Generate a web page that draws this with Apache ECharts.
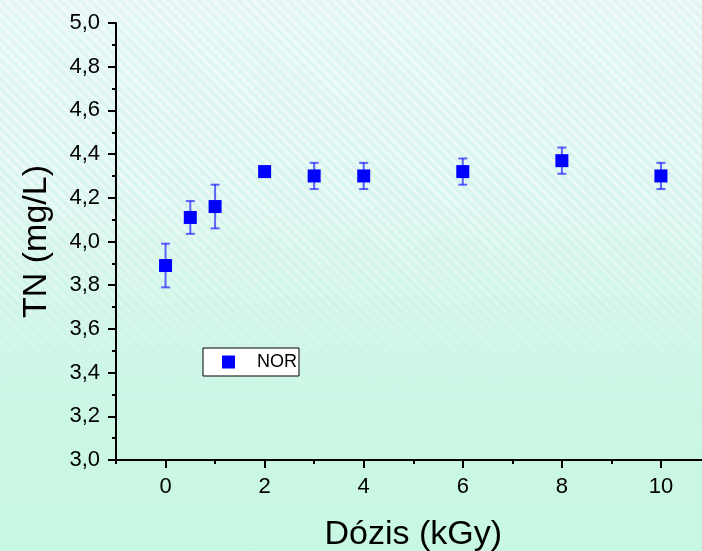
<!DOCTYPE html>
<html>
<head>
<meta charset="utf-8">
<script src="https://cdn.jsdelivr.net/npm/echarts@6/dist/echarts.min.js"></script>
<style>
  html, body { margin: 0; padding: 0; }
  #wrap {
    position: relative;
    width: 702px;
    height: 551px;
    overflow: hidden;
    background: linear-gradient(to bottom, #e3f6f5 0%, #d9f5ef 35%, #cdf6e6 65%, #c8f8e3 100%);
  }
  #stripes {
    position: absolute;
    left: 0; top: 0; width: 702px; height: 551px;
    background: repeating-linear-gradient(45deg, rgba(255,255,255,0.45) 0px, rgba(255,255,255,0.45) 3px, rgba(255,255,255,0) 3px, rgba(255,255,255,0) 7px);
    -webkit-mask-image: linear-gradient(to bottom, #000 0%, #000 35%, transparent 72%);
    mask-image: linear-gradient(to bottom, #000 0%, #000 35%, transparent 72%);
  }
  #chart { position: absolute; left: 0; top: 0; width: 702px; height: 551px; }
</style>
</head>
<body>
<div id="wrap">
  <div id="stripes"></div>
  <div id="chart"></div>
</div>
<script>
// dose (kGy) and total nitrogen (mg/L)
const doses = [0, 0.5, 1, 2, 3, 4, 6, 8, 10];
const tnValues = [3.89, 4.11, 4.16, 4.32, 4.30, 4.30, 4.32, 4.37, 4.30];
const tnErrors = [0.10, 0.075, 0.10, 0.01, 0.06, 0.06, 0.06, 0.06, 0.06];
const xMajorTicks = [0, 2, 4, 6, 8, 10];
const xMinorTicks = [-1, 1, 3, 5, 7, 9, 11];

const chart = echarts.init(document.getElementById('chart'), null, { renderer: 'canvas' });

const font = 'Arial, "Liberation Sans", sans-serif';
const errColor = 'rgba(20,20,255,0.65)';

const points = doses.map((d, i) => [d, tnValues[i]]);
const errData = doses.map((d, i) => [d, tnValues[i] - tnErrors[i], tnValues[i] + tnErrors[i]]);

function renderErr(params, api) {
    const x = api.value(0);
    const lo = api.coord([x, api.value(1)]);
    const hi = api.coord([x, api.value(2)]);
    const w = 4.5;
    const style = { stroke: errColor, lineWidth: 2 };
    return {
        type: 'group',
        children: [
            { type: 'line', shape: { x1: hi[0], y1: hi[1], x2: lo[0], y2: lo[1] }, style: style },
            { type: 'line', shape: { x1: hi[0] - w, y1: hi[1], x2: hi[0] + w, y2: hi[1] }, style: style },
            { type: 'line', shape: { x1: lo[0] - w, y1: lo[1], x2: lo[0] + w, y2: lo[1] }, style: style }
        ]
    };
}

const option = {
    backgroundColor: 'transparent',
    animation: false,
    grid: {
        left: 116,
        right: -8.5,
        top: 23,
        bottom: 91,
        containLabel: false,
        outerBoundsMode: 'none'
    },
    legend: {
        left: 203,
        top: 348,
        orient: 'vertical',
        data: ['NOR'],
        backgroundColor: '#ffffff',
        borderColor: '#000000',
        borderWidth: 1,
        borderRadius: 0,
        padding: [5, 2, 5, 19],
        itemWidth: 13,
        itemHeight: 13,
        textStyle: {
            fontFamily: font,
            fontSize: 18,
            color: '#000',
            padding: [0, 0, 0, 17]
        }
    },
    xAxis: [
        {
            type: 'value',
            position: 'bottom',
            min: -1,
            max: 11,
            interval: 1,
            splitLine: { show: false },
            axisLine: { onZero: false, lineStyle: { color: '#000', width: 2 } },
            axisTick: { show: true, customValues: xMajorTicks, length: 8, lineStyle: { color: '#000', width: 2 } },
            axisLabel: {
                customValues: xMajorTicks,
                margin: 16,
                fontFamily: font,
                fontSize: 22,
                color: '#000'
            },
            name: 'Dózis (kGy)',
            nameLocation: 'middle',
            nameGap: 58,
            nameTextStyle: { fontFamily: font, fontSize: 34, color: '#000' }
        },
        {
            type: 'value',
            position: 'bottom',
            min: -1,
            max: 11,
            interval: 1,
            splitLine: { show: false },
            axisLine: { show: false, onZero: false },
            axisTick: { show: true, customValues: xMinorTicks, length: 4, lineStyle: { color: '#000', width: 2 } },
            axisLabel: { show: false }
        }
    ],
    yAxis: {
        type: 'value',
        min: 3,
        max: 5,
        interval: 0.2,
        splitLine: { show: false },
        axisLine: { show: true, onZero: false, lineStyle: { color: '#000', width: 2 } },
        axisTick: { show: true, length: 8, lineStyle: { color: '#000', width: 2 } },
        minorTick: { show: true, splitNumber: 2, length: 4, lineStyle: { color: '#000', width: 2 } },
        axisLabel: {
            margin: 16,
            fontFamily: font,
            fontSize: 22,
            color: '#000',
            formatter: v => v.toFixed(1).replace('.', ',')
        },
        name: 'TN (mg/L)',
        nameLocation: 'middle',
        nameGap: 62,
        nameTextStyle: { fontFamily: font, fontSize: 34, color: '#000' }
    },
    series: [
        {
            name: 'err',
            type: 'custom',
            xAxisIndex: 0,
            renderItem: renderErr,
            data: errData,
            z: 1,
            silent: true
        },
        {
            name: 'NOR',
            type: 'scatter',
            xAxisIndex: 0,
            symbol: 'rect',
            symbolSize: 13,
            itemStyle: { color: '#0000ff', opacity: 1 },
            data: points,
            z: 3
        }
    ]
};

chart.setOption(option);
</script>
</body>
</html>
